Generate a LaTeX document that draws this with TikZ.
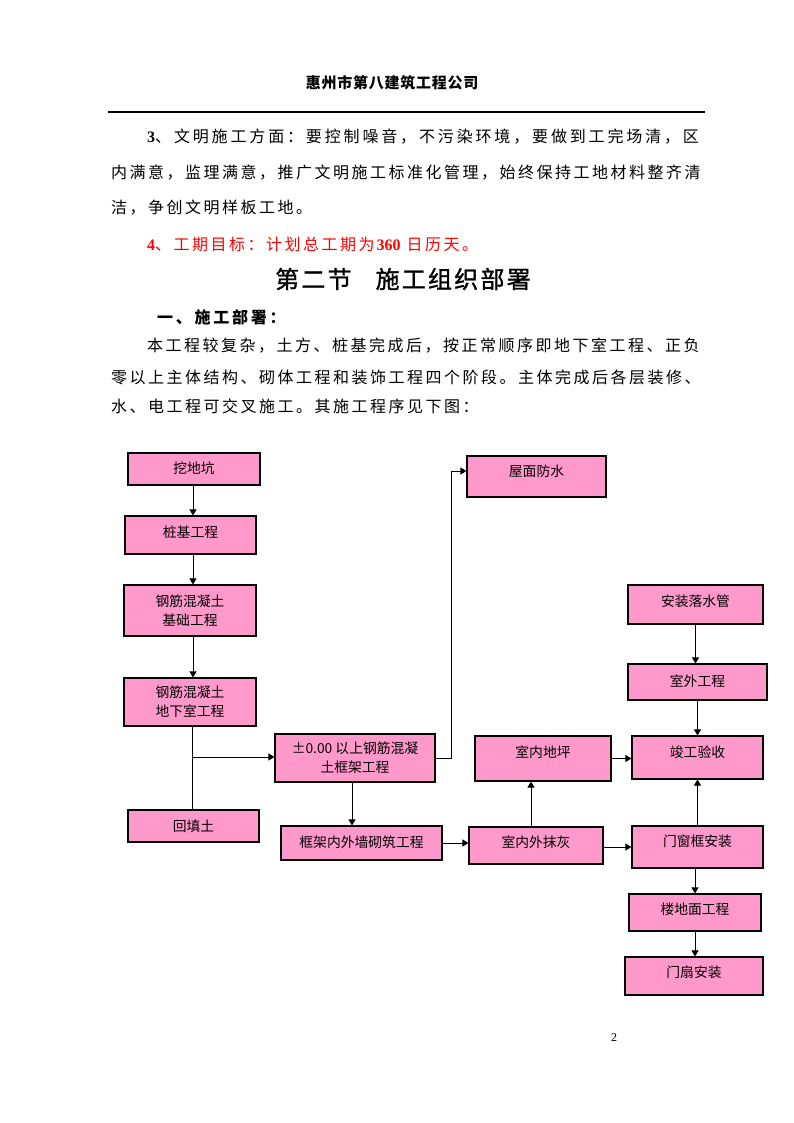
\documentclass[tikz,border=0pt]{standalone}
\usepackage{fontspec}
\usetikzlibrary{arrows.meta}
\newfontfamily\cjk{Noto Sans CJK SC}
\newfontfamily\bodyf[LetterSpace=15.6]{Noto Sans CJK SC}
\newfontfamily\bodyw[LetterSpace=17.8]{Noto Sans CJK SC}
\newfontfamily\subf[LetterSpace=17]{Noto Sans CJK SC}
\newfontfamily\titlef[LetterSpace=9.2,FakeBold=1.3]{Noto Sans CJK SC}
\newfontfamily\headf[LetterSpace=5]{Noto Sans CJK SC}
\newfontfamily\tnr{Liberation Serif}
\newcommand\num[1]{{\tnr\bfseries #1}}
\newcommand\boxfont{\cjk\fontsize{13.8pt}{19pt}\selectfont}
\definecolor{boxpink}{HTML}{FF99CC}
\definecolor{redtext}{HTML}{FF0000}
\tikzset{
  box/.style={draw=black, line width=1.1pt, fill=boxpink, inner sep=0pt, align=center, font=\boxfont},
  tsh/.style={text height=#1pt, text depth=2pt},
  conn/.style={line width=0.9pt, draw=black},
  arr/.style={conn, -{Triangle[length=6pt,width=7pt]}},
  bodytext/.style={anchor=west, inner sep=0pt, font=\bodyf\fontsize{16pt}{16pt}\selectfont},
}
\begin{document}
\begin{tikzpicture}[x=1pt,y=-1pt]
\fill[white] (0,0) rectangle (794,1123);
\useasboundingbox (0,0) rectangle (794,1123);

% header
\node[inner sep=0pt, font=\headf\bfseries\fontsize{15pt}{15pt}\selectfont] (hd) at (392,83) {惠州市第八建筑工程公司};
\coordinate (rl) at (108,112);
\coordinate (rr) at (705,112);
\draw[line width=1.2pt] (rl) -- (rr);

% body text
\node[bodytext, font=\bodyw\fontsize{16pt}{16pt}\selectfont] (t1) at (147,137) {\num{3}、文明施工方面：要控制噪音，不污染环境，要做到工完场清，区};
\node[bodytext] (t2) at (111,173) {内满意，监理满意，推广文明施工标准化管理，始终保持工地材料整齐清};
\node[bodytext] (t3) at (111,208) {洁，争创文明样板工地。};
\node[bodytext, text=redtext] (t4) at (147,244) {\num{4}、工期目标：计划总工期为\hspace{2pt}\num{360}\hspace{6pt}日历天。};
\node[anchor=west, inner sep=0pt, font=\titlef\fontsize{24pt}{24pt}\selectfont] (tt) at (275,279) {第二节\hspace{24pt}施工组织部署};
\node[anchor=west, inner sep=0pt, font=\subf\bfseries\fontsize{16pt}{16pt}\selectfont] (st) at (157,317) {一、施工部署：};
\node[bodytext] (p1) at (147,346) {本工程较复杂，土方、桩基完成后，按正常顺序即地下室工程、正负};
\node[bodytext] (p2) at (111,377) {零以上主体结构、砌体工程和装饰工程四个阶段。主体完成后各层装修、};
\node[bodytext] (p3) at (111,406) {水、电工程可交叉施工。其施工程序见下图：};

% flowchart boxes
\node[box, tsh=10.88, minimum width=132pt, minimum height=32pt] (dig) at (194,469) {挖地坑};
\node[box, tsh=7.88, minimum width=131pt, minimum height=38pt] (pile) at (190.5,535) {桩基工程};
\node[box, minimum width=132pt, minimum height=51pt] (found) at (190,610.5) {钢筋混凝土\\基础工程};
\node[box, minimum width=132pt, minimum height=48pt] (base) at (190,702) {钢筋混凝土\\地下室工程};
\node[box, minimum width=160pt, minimum height=48pt] (frame) at (355,758) {±0.00 以上钢筋混凝\\土框架工程};
\node[box, tsh=13.88, minimum width=131pt, minimum height=32pt] (fill) at (193.5,826) {回填土};
\node[box, tsh=11.88, minimum width=161pt, minimum height=34pt] (wall) at (361.5,843) {框架内外墙砌筑工程};
\node[box, tsh=2.88, minimum width=139pt, minimum height=41pt] (roof) at (536.5,476.5) {屋面防水};
\node[box, tsh=6.88, minimum width=135pt, minimum height=39pt] (pipe) at (695.5,604.5) {安装落水管};
\node[box, tsh=11.88, minimum width=139pt, minimum height=36pt] (outer) at (697.5,682) {室外工程};
\node[box, tsh=2.88, minimum width=131pt, minimum height=43pt] (accept) at (697.5,757.5) {竣工验收};
\node[box, tsh=0.88, minimum width=136pt, minimum height=45pt] (floor) at (543,758.5) {室内地坪};
\node[box, tsh=6.88, minimum width=134pt, minimum height=37pt] (plaster) at (536,845.5) {室内外抹灰};
\node[box, tsh=1.88, minimum width=131pt, minimum height=42pt] (door) at (697.5,847) {门窗框安装};
\node[box, tsh=6.88, minimum width=132pt, minimum height=37pt] (storey) at (695,912.5) {楼地面工程};
\node[box, tsh=5.88, minimum width=138pt, minimum height=38pt] (leaf) at (694,976) {门扇安装};

% helper coordinates
\coordinate (lx) at (193,0);
\coordinate (bj) at (192,757);
\coordinate (fx) at (352,0);
\coordinate (rt) at (451,471);
\coordinate (px) at (531,0);

% connectors
\draw[arr] (lx |- dig.south) -- (lx |- pile.north);
\draw[arr] (lx |- pile.south) -- (lx |- found.north);
\draw[arr] (lx |- found.south) -- (lx |- base.north);
\draw[conn] (bj |- base.south) -- (bj |- fill.north);
\draw[arr] (bj) -- (bj -| frame.west);
\draw[arr] (fx |- frame.south) -- (fx |- wall.north);
\draw[arr] (frame.east) -| (rt) -- (rt -| roof.west);
\draw[arr] (wall.east) -- (wall.east -| plaster.west);
\draw[arr] (px |- plaster.north) -- (px |- floor.south);
\draw[arr] (door.west -| plaster.east) -- (door.west);
\draw[arr] (floor.east) -- (floor.east -| accept.west);
\draw[arr] (pipe.south) -- (pipe.south |- outer.north);
\draw[arr] (outer.south) -- (outer.south |- accept.north);
\draw[arr] (door.north) -- (door.north |- accept.south);
\draw[arr] (storey.north |- door.south) -- (storey.north);
\draw[arr] (storey.south) -- (storey.south |- leaf.north);

% page number
\node[inner sep=0pt, font=\tnr\fontsize{12pt}{12pt}\selectfont] (pg) at (614,1038) {2};
\end{tikzpicture}
\end{document}
